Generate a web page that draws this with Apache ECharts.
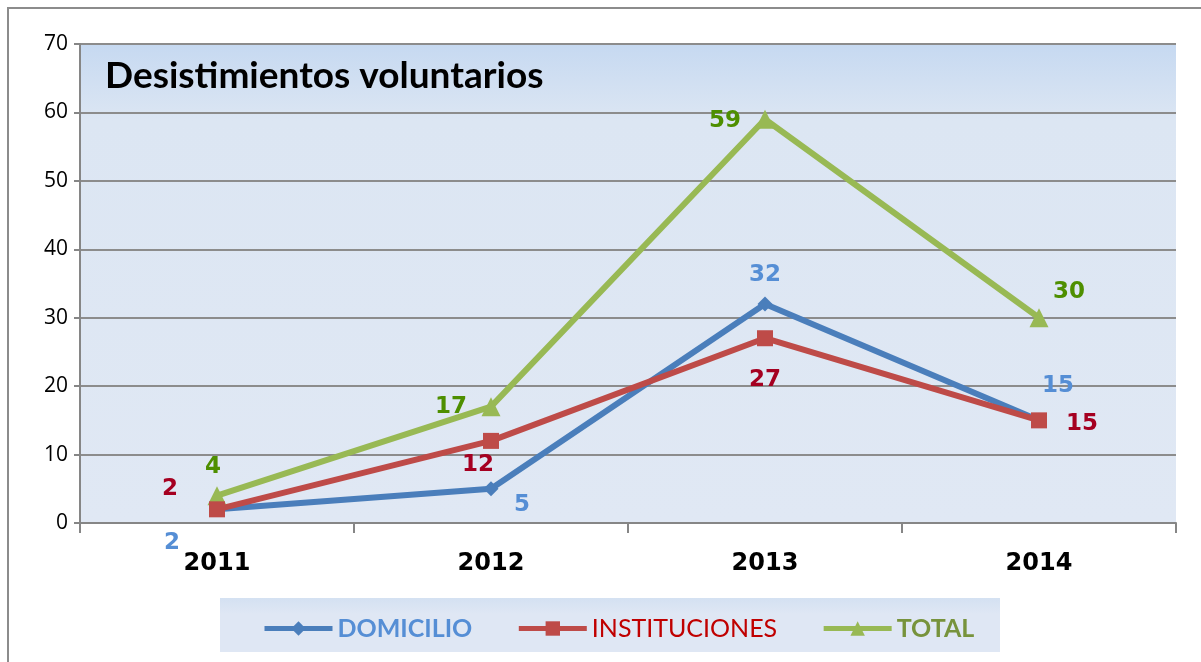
<!DOCTYPE html>
<html>
<head>
<meta charset="utf-8">
<script src="https://cdn.jsdelivr.net/npm/echarts@6/dist/echarts.min.js"></script>
<style>
  html, body { margin: 0; padding: 0; background: #fff; }
  #main { width: 1201px; height: 662px; }
</style>
</head>
<body>
<div id="main"></div>
<script>
// chart data
const years = ["2011", "2012", "2013", "2014"];
const domicilio = [2, 5, 32, 15];
const instituciones = [2, 12, 27, 15];
const total = [4, 17, 59, 30];
const yTicks = [0, 10, 20, 30, 40, 50, 60, 70];

// where each value label sits relative to its point (px)
const offDom = [[-45, 34], [31, 16], [0, -29], [19, -34]];
const offIns = [[-47, -20], [-13, 24], [0, 42], [43, 4]];
const offTot = [[-4, -29], [-40, 0], [-40, 2], [30, -26]];

const chart = echarts.init(document.getElementById("main"));

function withLabels(values, offsets, color) {
  return values.map((v, i) => ({
    value: v,
    label: { offset: offsets[i], color: color }
  }));
}

const labelBase = {
  show: true,
  position: "inside",
  fontFamily: "DejaVu Sans",
  fontWeight: "bold",
  fontSize: 23
};

chart.setOption({
  animation: false,
  graphic: [
    {
      type: "rect", z: -10, silent: true,
      shape: { x: 8, y: 8, width: 1300, height: 800 },
      style: { fill: "#fff", stroke: "#8c8c8c", lineWidth: 2 }
    },
    {
      type: "rect", z: -5, silent: true,
      shape: { x: 220, y: 598, width: 780, height: 54 },
      style: {
        fill: new echarts.graphic.LinearGradient(0, 0, 0, 1, [
          { offset: 0, color: "#d4e1f2" },
          { offset: 0.3, color: "#dfe7f4" },
          { offset: 1, color: "#dfe7f4" }
        ])
      }
    }
  ],
  title: {
    text: "Desistimientos voluntarios",
    left: 100,
    top: 53,
    textStyle: { fontFamily: "Lato", fontWeight: "bold", fontSize: 37, color: "#000" }
  },
  legend: {
    left: 257,
    top: 611,
    itemWidth: 68,
    itemHeight: 18,
    itemGap: 44,
    lineStyle: { width: 5 },
    textStyle: { fontFamily: "Lato", fontSize: 25 },
    data: [
      { name: "DOMICILIO", textStyle: { color: "#558ed5", fontWeight: "bold" } },
      { name: "INSTITUCIONES", textStyle: { color: "#c00000" } },
      { name: "TOTAL", textStyle: { color: "#77933c", fontWeight: "bold" } }
    ]
  },
  grid: {
    left: 80, right: 25, top: 44, bottom: 139,
    show: true,
    borderWidth: 0,
    backgroundColor: new echarts.graphic.LinearGradient(0, 0, 0, 1, [
      { offset: 0, color: "#c6d9f1" },
      { offset: 0.16, color: "#dce6f3" },
      { offset: 1, color: "#e0e8f4" }
    ])
  },
  xAxis: {
    type: "category",
    data: years,
    boundaryGap: true,
    axisLine: { lineStyle: { color: "#868686", width: 2 } },
    axisTick: { show: true, length: 10, lineStyle: { color: "#868686", width: 2 } },
    axisLabel: {
      margin: 29,
      color: "#000",
      fontFamily: "DejaVu Sans",
      fontWeight: "bold",
      fontSize: 24
    }
  },
  yAxis: {
    type: "value",
    min: yTicks[0],
    max: yTicks[yTicks.length - 1],
    interval: 10,
    axisLine: { show: true, lineStyle: { color: "#868686", width: 2 } },
    axisTick: { show: true, length: 6, lineStyle: { color: "#868686", width: 2 } },
    splitLine: { lineStyle: { color: "#8c8c8c", width: 2 } },
    axisLabel: {
      margin: 12,
      color: "#000",
      fontFamily: "Open Sans",
      fontSize: 21
    }
  },
  series: [
    {
      name: "DOMICILIO",
      type: "line",
      data: withLabels(domicilio, offDom, "#558ed5"),
      symbol: "diamond",
      symbolSize: 15,
      lineStyle: { width: 6, color: "#4a7ebb" },
      itemStyle: { color: "#4a7ebb" },
      label: labelBase,
      z: 3
    },
    {
      name: "INSTITUCIONES",
      type: "line",
      data: withLabels(instituciones, offIns, "#a50021"),
      symbol: "rect",
      symbolSize: 16,
      lineStyle: { width: 6, color: "#be4b48" },
      itemStyle: { color: "#be4b48" },
      label: labelBase,
      z: 4
    },
    {
      name: "TOTAL",
      type: "line",
      data: withLabels(total, offTot, "#4e8f00"),
      symbol: "triangle",
      symbolSize: 19,
      lineStyle: { width: 6, color: "#98b954" },
      itemStyle: { color: "#98b954" },
      label: labelBase,
      z: 2
    }
  ]
});

window.addEventListener("resize", () => chart.resize());
</script>
</body>
</html>
